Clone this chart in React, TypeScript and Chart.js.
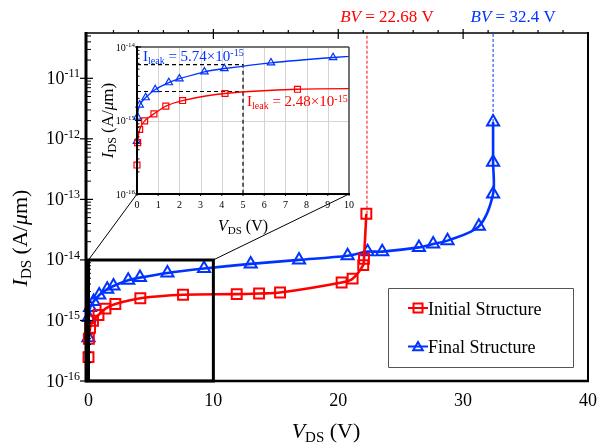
import React, { useEffect, useRef } from 'react';
import { Chart, registerables } from 'chart.js';
Chart.register(...registerables);

// ---------------- data ----------------
const initialV = [0, 0.03, 0.125, 0.36, 0.8, 1.36, 2.15, 4.15, 7.57, 11.87, 13.66, 15.34, 20.27, 21.15, 22.0, 22.06, 22.25];
const initialI = [2.48e-16, 5.0e-16, 7.55e-16, 9.9e-16, 1.23e-15, 1.57e-15, 1.87e-15, 2.33e-15, 2.66e-15, 2.72e-15, 2.79e-15, 2.89e-15, 4.24e-15, 4.9e-15, 8.2e-15, 1.04e-14, 5.8e-14];
const finalV = [0, 0.02, 0.125, 0.41, 0.86, 1.5, 2.0, 3.18, 4.12, 6.32, 9.25, 12.99, 16.86, 20.75, 22.35, 23.52, 26.46, 27.6, 28.75, 31.26, 32.4, 32.4, 32.4];
const finalI = [5.2e-16, 1.12e-15, 1.63e-15, 2.05e-15, 2.64e-15, 3.28e-15, 3.7e-15, 4.6e-15, 5.1e-15, 6.1e-15, 7.2e-15, 8.6e-15, 1.0e-14, 1.17e-14, 1.37e-14, 1.37e-14, 1.61e-14, 1.83e-14, 2.08e-14, 3.59e-14, 1.23e-13, 4.1e-13, 1.9e-12];

const bvInitial = 22.3;
const bvFinal = 32.4;
const bvInitialText = '22.68';
const bvFinalText = '32.4';

const xTicks = [0, 10, 20, 30, 40];
const yTickExps = [-16, -15, -14, -13, -12, -11];
const insetXTicks = [0, 1, 2, 3, 4, 5, 6, 7, 8, 9, 10];
const insetYTickExps = [-16, -15, -14];

const leakV = 5;
const leakFinal = 5.74e-15;
const leakInitial = 2.48e-15;
const leakFinalText = '5.74';
const leakInitialText = '2.48';
const leakExp = '-15';

const legendLabels = ['Initial Structure', 'Final Structure'];

// ---------------- style / layout ----------------
const RED = '#ff0000';
const BLUE = '#0033ff';
const X_MIN = -0.2, X_MAX = 40, Y_MIN = 1e-16, Y_MAX = 5.6e-11;
const ZOOM_X = 10, ZOOM_Y = 1e-14;
const IX = 90, IY = 28, IW = 270, IH = 215;
const IPAD = { left: 47, right: 11, top: 19, bottom: 49 };
const SERIF = '"Liberation Serif", "Times New Roman", serif';

type Part = { t: string; s: number; it?: boolean; dy?: number };
const fnt = (s: number, it?: boolean) => `${it ? 'italic ' : ''}${s}px ${SERIF}`;

function drawRich(ctx: CanvasRenderingContext2D, parts: Part[], x: number, y: number, align: 'left' | 'center' | 'right', color: string) {
  let w = 0;
  for (const p of parts) { ctx.font = fnt(p.s, p.it); w += ctx.measureText(p.t).width; }
  let cx = align === 'left' ? x : align === 'center' ? x - w / 2 : x - w;
  ctx.textAlign = 'left';
  ctx.textBaseline = 'alphabetic';
  ctx.fillStyle = color;
  for (const p of parts) {
    ctx.font = fnt(p.s, p.it);
    ctx.fillText(p.t, cx, y + (p.dy || 0));
    cx += ctx.measureText(p.t).width;
  }
}

function line(ctx: CanvasRenderingContext2D, x1: number, y1: number, x2: number, y2: number) {
  ctx.beginPath(); ctx.moveTo(x1, y1); ctx.lineTo(x2, y2); ctx.stroke();
}

function square(ctx: CanvasRenderingContext2D, x: number, y: number, h: number) {
  ctx.beginPath(); ctx.rect(x - h, y - h, 2 * h, 2 * h); ctx.stroke();
}
function triangle(ctx: CanvasRenderingContext2D, x: number, y: number, r: number) {
  ctx.beginPath();
  for (let k = 0; k < 3; k++) {
    const a = k * (2 * Math.PI / 3);
    const px = x + Math.sin(a) * r, py = y - Math.cos(a) * r;
    if (k === 0) ctx.moveTo(px, py); else ctx.lineTo(px, py);
  }
  ctx.closePath(); ctx.stroke();
}

const mainDecor = {
  id: 'mainDecor',
  beforeDraw(chart: any) {
    const ctx = chart.ctx;
    ctx.save(); ctx.fillStyle = '#fff'; ctx.fillRect(0, 0, chart.width, chart.height); ctx.restore();
  },
  beforeDatasetsDraw(chart: any) {
    const { ctx, scales: { x, y } } = chart;
    ctx.save();
    ctx.strokeStyle = '#000'; ctx.lineWidth = 1;
    const bx0 = x.getPixelForValue(0), bx1 = x.getPixelForValue(ZOOM_X), by = y.getPixelForValue(ZOOM_Y);
    const ib = IY + IH - IPAD.bottom;
    line(ctx, bx0, by, IX + IPAD.left, ib);
    line(ctx, bx1, by, IX + IW - IPAD.right, ib);
    ctx.restore();
  },
  afterDatasetsDraw(chart: any) {
    const { ctx, chartArea: a, scales: { x, y } } = chart;
    ctx.save();
    ctx.setLineDash([]);
    ctx.strokeStyle = '#000';
    // zoom box
    ctx.lineWidth = 3;
    const bx0 = x.getPixelForValue(0), bx1 = x.getPixelForValue(ZOOM_X), by = y.getPixelForValue(ZOOM_Y);
    ctx.beginPath(); ctx.rect(bx0, by, bx1 - bx0, a.bottom - by); ctx.stroke();
    // frame
    ctx.lineWidth = 1.5; line(ctx, a.left, a.top, a.right, a.top);
    ctx.lineWidth = 2; line(ctx, a.right, a.top - 1, a.right, a.bottom + 1);
    ctx.lineWidth = 2.5; line(ctx, a.left - 1, a.bottom, a.right + 1, a.bottom);
    ctx.lineWidth = 3; line(ctx, a.left, a.top - 1, a.left, a.bottom + 1.5);
    // top ticks
    ctx.lineWidth = 1.2;
    for (let v = 2; v < X_MAX; v += 2) {
      const px = x.getPixelForValue(v);
      if (v % 10 === 0) line(ctx, px, a.top - 4, px, a.top + 6);
      else line(ctx, px, a.top - 3, px, a.top);
    }
    // y ticks
    for (let e = -16; e <= -11; e++) {
      const py = y.getPixelForValue(Math.pow(10, e));
      ctx.lineWidth = 1.2; line(ctx, a.left - 6, py, a.left + 7, py);
      for (let m = 2; m <= 9; m++) {
        const v = m * Math.pow(10, e);
        if (v > Y_MAX) break;
        const pm = y.getPixelForValue(v);
        ctx.lineWidth = 1; line(ctx, a.left, pm, a.left + 5, pm);
      }
    }
    // y tick labels
    for (const e of yTickExps) {
      const py = y.getPixelForValue(Math.pow(10, e));
      drawRich(ctx, [{ t: '10', s: 18 }, { t: String(e), s: 12, dy: -6.5 }], a.left - 6, py + 5.5, 'right', '#000');
    }
    // x tick labels
    for (const v of xTicks) {
      drawRich(ctx, [{ t: String(v), s: 18 }], x.getPixelForValue(v), a.bottom + 25, 'center', '#000');
    }
    // axis titles
    drawRich(ctx, [{ t: 'V', s: 22, it: true }, { t: 'DS', s: 15, dy: 4 }, { t: ' (V)', s: 22 }], 326, 438, 'center', '#000');
    ctx.save();
    ctx.translate(27, 238);
    ctx.rotate(-Math.PI / 2);
    drawRich(ctx, [{ t: 'I', s: 22, it: true }, { t: 'DS', s: 15, dy: 4 }, { t: ' (A/', s: 22 }, { t: 'μ', s: 22, it: true }, { t: 'm)', s: 22 }], 0, 0, 'center', '#000');
    ctx.restore();
    // BV labels
    drawRich(ctx, [{ t: 'BV', s: 17, it: true }, { t: ' = ' + bvInitialText + ' V', s: 17 }], x.getPixelForValue(bvInitial) + 20, 21.5, 'center', RED);
    drawRich(ctx, [{ t: 'BV', s: 17, it: true }, { t: ' = ' + bvFinalText + ' V', s: 17 }], x.getPixelForValue(bvFinal) + 20, 21.5, 'center', BLUE);
    // legend
    const L = { l: a.right - 200, t: a.bottom - 93, r: a.right - 15.5, b: a.bottom - 14 };
    ctx.strokeStyle = '#555555'; ctx.lineWidth = 1;
    ctx.beginPath(); ctx.rect(Math.round(L.l) + 0.5, Math.round(L.t) + 0.5, Math.round(L.r - L.l), Math.round(L.b - L.t)); ctx.stroke();
    const rows = [L.t + 20, L.t + 58.5];
    const cols = [RED, BLUE];
    rows.forEach((ry, i) => {
      ctx.strokeStyle = cols[i]; ctx.lineWidth = 2;
      line(ctx, L.l + 20, ry, L.l + 40, ry);
      if (i === 0) square(ctx, L.l + 30, ry, 4.5); else triangle(ctx, L.l + 30, ry + 1, 5.5);
      drawRich(ctx, [{ t: legendLabels[i], s: 18 }], L.l + 40, ry + 6.5, 'left', '#000');
    });
    ctx.restore();
  },
};

const insetDecor = {
  id: 'insetDecor',
  beforeDatasetsDraw(chart: any) {
    const { ctx, chartArea: a, scales: { x, y } } = chart;
    ctx.save();
    ctx.fillStyle = '#fff';
    ctx.fillRect(a.left, a.top, a.right - a.left, a.bottom - a.top);
    ctx.strokeStyle = '#d4d4d4'; ctx.lineWidth = 1;
    for (const v of insetXTicks) {
      if (v === 0 || v === 10) continue;
      const px = Math.round(x.getPixelForValue(v)) + 0.5;
      line(ctx, px, a.top, px, a.bottom);
    }
    const py = Math.round(y.getPixelForValue(1e-15)) + 0.5;
    line(ctx, a.left, py, a.right, py);
    ctx.restore();
  },
  afterDatasetsDraw(chart: any) {
    const { ctx, chartArea: a, scales: { x, y } } = chart;
    ctx.save();
    ctx.setLineDash([]);
    ctx.strokeStyle = '#444'; ctx.lineWidth = 1.5;
    line(ctx, a.left, a.top, a.right, a.top);
    line(ctx, a.right, a.top, a.right, a.bottom);
    ctx.strokeStyle = '#000'; ctx.lineWidth = 2;
    line(ctx, a.left - 1, a.bottom, a.right + 1, a.bottom);
    line(ctx, a.left, a.top - 1, a.left, a.bottom + 1);
    // left ticks
    for (let e = -16; e <= -14; e++) {
      const pe = y.getPixelForValue(Math.pow(10, e));
      ctx.lineWidth = 1; line(ctx, a.left - 2, pe, a.left + 4, pe);
      if (e === -14) break;
      for (let m = 2; m <= 9; m++) {
        const pm = y.getPixelForValue(m * Math.pow(10, e));
        line(ctx, a.left, pm, a.left + 2.5, pm);
      }
    }
    for (const v of insetXTicks) {
      const px = x.getPixelForValue(v);
      line(ctx, px, a.bottom, px, a.bottom + 2);
    }
    // tick labels
    for (const v of insetXTicks) {
      drawRich(ctx, [{ t: String(v), s: 10 }], x.getPixelForValue(v), a.bottom + 14, 'center', '#000');
    }
    for (const e of insetYTickExps) {
      const pe = y.getPixelForValue(Math.pow(10, e));
      drawRich(ctx, [{ t: '10', s: 10 }, { t: String(e), s: 7, dy: -4 }], a.left - 2, pe + 3.5, 'right', '#000');
    }
    // titles
    drawRich(ctx, [{ t: 'V', s: 16, it: true }, { t: 'DS', s: 11, dy: 3 }, { t: ' (V)', s: 16 }], (a.left + a.right) / 2, a.bottom + 37, 'center', '#000');
    ctx.save();
    ctx.translate(a.left - 24, (a.top + a.bottom) / 2);
    ctx.rotate(-Math.PI / 2);
    drawRich(ctx, [{ t: 'I', s: 17, it: true }, { t: 'DS', s: 12, dy: 3 }, { t: ' (A/', s: 17 }, { t: 'μ', s: 17, it: true }, { t: 'm)', s: 17 }], 0, 0, 'center', '#000');
    ctx.restore();
    // leak labels
    drawRich(ctx, [{ t: 'I', s: 15 }, { t: 'leak', s: 10, dy: 3.3 }, { t: ' = ' + leakFinalText + '×10', s: 15 }, { t: leakExp, s: 10, dy: -4.5 }], a.left + 6, a.top + 13.5, 'left', BLUE);
    drawRich(ctx, [{ t: 'I', s: 15 }, { t: 'leak', s: 10, dy: 3.3 }, { t: ' = ' + leakInitialText + '×10', s: 15 }, { t: leakExp, s: 10, dy: -4.5 }], a.left + 110, a.top + 59, 'left', RED);
    ctx.restore();
  },
};

function seriesData(xs: number[], ys: number[]) {
  return xs.map((v, i) => ({ x: v, y: ys[i] }));
}

export default function App() {
  const mainRef = useRef<HTMLCanvasElement>(null);
  const insetRef = useRef<HTMLCanvasElement>(null);

  useEffect(() => {
    const main = new Chart(mainRef.current as HTMLCanvasElement, {
      type: 'line',
      data: {
        datasets: [
          {
            data: seriesData(initialV, initialI), borderColor: RED, borderWidth: 2.6, tension: 0.3,
            pointStyle: 'rect', pointRadius: 7, pointBorderWidth: 2, pointBorderColor: RED, pointBackgroundColor: 'rgba(0,0,0,0)',
          },
          {
            data: seriesData(finalV, finalI), borderColor: BLUE, borderWidth: 2.6, tension: 0.3,
            pointStyle: 'triangle', pointRadius: 7, pointBorderWidth: 2, pointBorderColor: BLUE, pointBackgroundColor: 'rgba(0,0,0,0)',
          },
          {
            data: [{ x: bvInitial, y: initialI[initialI.length - 1] }, { x: bvInitial, y: Y_MAX }],
            borderColor: RED, borderWidth: 1, borderDash: [3, 2], pointRadius: 0, tension: 0,
          },
          {
            data: [{ x: bvFinal, y: finalI[finalI.length - 1] }, { x: bvFinal, y: Y_MAX }],
            borderColor: BLUE, borderWidth: 1, borderDash: [3, 2], pointRadius: 0, tension: 0,
          },
        ] as any,
      },
      options: {
        animation: false,
        responsive: false,
        devicePixelRatio: 1,
        clip: false as any,
        layout: { padding: { left: 86, right: 12, top: 33, bottom: 67 } },
        plugins: { legend: { display: false }, tooltip: { enabled: false } },
        scales: {
          x: { type: 'linear', min: X_MIN, max: X_MAX, display: false },
          y: { type: 'logarithmic', min: Y_MIN, max: Y_MAX, display: false },
        },
      },
      plugins: [mainDecor],
    });

    const inset = new Chart(insetRef.current as HTMLCanvasElement, {
      type: 'line',
      data: {
        datasets: [
          {
            data: seriesData(initialV, initialI), borderColor: RED, borderWidth: 1.3, tension: 0.3,
            pointStyle: 'rect', pointRadius: 4.2, pointBorderWidth: 1.2, pointBorderColor: RED, pointBackgroundColor: 'rgba(0,0,0,0)',
            clip: { left: 6, top: 0, right: 0, bottom: 6 },
          },
          {
            data: seriesData(finalV, finalI), borderColor: BLUE, borderWidth: 1.3, tension: 0.3,
            pointStyle: 'triangle', pointRadius: 4.3, pointBorderWidth: 1.2, pointBorderColor: BLUE, pointBackgroundColor: 'rgba(0,0,0,0)',
            clip: { left: 6, top: 0, right: 0, bottom: 6 },
          },
          {
            data: [{ x: 0, y: leakFinal }, { x: leakV, y: leakFinal }, { x: leakV, y: Y_MIN }],
            borderColor: '#000', borderWidth: 1.2, borderDash: [4, 3], pointRadius: 0, tension: 0,
          },
          {
            data: [{ x: 0, y: leakInitial }, { x: leakV, y: leakInitial }],
            borderColor: '#000', borderWidth: 1.2, borderDash: [4, 3], pointRadius: 0, tension: 0,
          },
        ] as any,
      },
      options: {
        animation: false,
        responsive: false,
        devicePixelRatio: 1,
        layout: { padding: IPAD },
        plugins: { legend: { display: false }, tooltip: { enabled: false } },
        scales: {
          x: { type: 'linear', min: 0, max: 10, display: false },
          y: { type: 'logarithmic', min: Y_MIN, max: 1e-14, display: false },
        },
      },
      plugins: [insetDecor],
    });

    return () => { main.destroy(); inset.destroy(); };
  }, []);

  return (
    <div style={{ position: 'absolute', left: 0, top: 0, width: 600, height: 448 }}>
      <canvas ref={mainRef} width={600} height={448} style={{ position: 'absolute', left: 0, top: 0, width: 600, height: 448 }} />
      <canvas ref={insetRef} width={IW} height={IH} style={{ position: 'absolute', left: IX, top: IY, width: IW, height: IH }} />
    </div>
  );
}
